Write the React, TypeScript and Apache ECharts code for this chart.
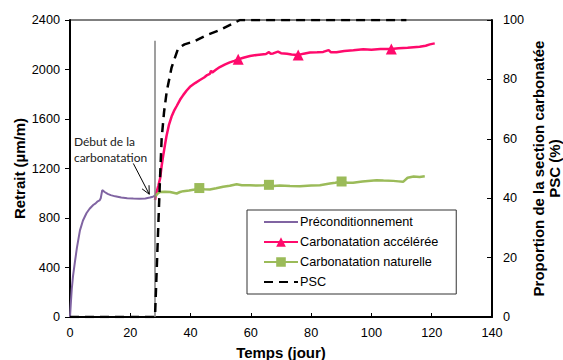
import React, { useEffect, useRef } from "react";
import * as echarts from "echarts";

const xTicks = { min: 0, max: 140, interval: 20 };
const yLeftTicks = { min: 0, max: 2400, interval: 400 };
const yRightTicks = { min: 0, max: 100, interval: 20 };

const seriesNames = [
  "Préconditionnement",
  "Carbonatation accélérée",
  "Carbonatation naturelle",
  "PSC",
];

const precond: number[][] = [
  [0, 0], [0.3, 120], [0.6, 230], [1, 330], [1.6, 440], [2.3, 560], [3.3, 700], [4.3, 780],
  [5.5, 840], [6.5, 875], [7.7, 905], [8.5, 918], [9.2, 935], [9.8, 942], [10.2, 960],
  [10.7, 1025], [11.5, 1010], [12.5, 995], [13.5, 985], [15, 975], [17, 965], [19, 960],
  [21, 957], [23, 955], [25, 958], [26.5, 965], [27.5, 972], [28.2, 980],
];

const accel: number[][] = [
  [28.2, 945], [28.6, 1000], [29.3, 1060], [29.9, 1120], [30.4, 1220], [30.9, 1300],
  [31.5, 1390], [32.0, 1460], [32.8, 1550], [33.7, 1620], [34.5, 1665], [35.4, 1705],
  [36.5, 1755], [37.6, 1795], [38.7, 1830], [39.8, 1860], [41.5, 1890], [43.1, 1915],
  [44.5, 1935], [45.5, 1955], [46.4, 1965], [46.8, 1990], [47.2, 1975], [48.5, 2000],
  [49.7, 2020], [51.3, 2040], [53, 2058], [54.5, 2070], [55.8, 2082], [57.5, 2095],
  [59.7, 2109], [62, 2118], [65, 2125], [66, 2140], [66.5, 2128], [67.4, 2130],
  [69, 2144], [70, 2132], [72, 2128], [73.5, 2122], [75.7, 2117], [77.5, 2128],
  [79.6, 2138], [82, 2140], [84, 2142], [85.8, 2157], [86.5, 2140], [88.4, 2139],
  [91, 2150], [94, 2155], [97.3, 2163], [100, 2160], [103, 2165], [106.6, 2165],
  [109, 2172], [112, 2176], [116, 2184], [118, 2192], [119.4, 2203], [121, 2211],
];
const accelMarkers = [55.8, 75.7, 106.6];

const natural: number[][] = [
  [28.2, 975], [29, 995], [29.8, 1010], [31.5, 1012], [33.2, 1010], [35.4, 998],
  [36.5, 1010], [37.6, 1017], [39.5, 1022], [41.4, 1030], [42.9, 1042], [44.5, 1032],
  [46.4, 1030], [48.5, 1040], [50.8, 1052], [53, 1060], [55.3, 1073], [57, 1065],
  [59.7, 1065], [62, 1062], [64.1, 1065], [66, 1068], [67.5, 1058], [69.6, 1062],
  [73, 1058], [76.3, 1057], [80, 1062], [82.9, 1065], [86.2, 1079], [88, 1085],
  [90.1, 1095], [92, 1085], [93.9, 1084], [97, 1095], [101.7, 1106], [104, 1103],
  [107.2, 1100], [109, 1096], [110.5, 1092], [112, 1125], [114, 1135], [116, 1132],
  [117.7, 1138],
];
const naturalMarkers = [42.9, 66, 90.1];

const psc: number[][] = [
  [0, 0], [28.2, 0], [29.8, 45], [30.4, 60], [31.2, 69], [32.1, 76], [33.7, 84],
  [35.9, 90.5], [38, 91.8], [40.9, 92.7], [45.3, 94.9], [49.7, 96.6], [56.4, 100],
  [111.6, 100],
];

const carbonationStart = 28.2;
const carbonationLineTop = 2232;
const annotationText = "Début de la\ncarbonatation";
const annotationAnchor = [1.3, 1486];
const arrowFrom = [21.0, 1241];
const arrowTo = [26.3, 992];

const FONT = "Arial, 'Liberation Sans', sans-serif";

function withMarkers(data: number[][], markers: number[]) {
  return data.map((d) =>
    markers.includes(d[0]) ? { value: d } : { value: d, symbol: "none" }
  );
}

export default function App() {
  const ref = useRef<HTMLDivElement>(null);
  useEffect(() => {
    if (!ref.current) return;
    const chart = echarts.init(ref.current, null, { renderer: "svg" });
    const axisLabel = { color: "#000", fontFamily: FONT, fontSize: 12.7, formatter: (v: number) => String(v) };
    const nameStyle = { color: "#000", fontFamily: FONT, fontSize: 15, fontWeight: "bold" as const };
    const hiddenSymbol = { color: "rgba(0,0,0,0)", borderColor: "rgba(0,0,0,0)", borderWidth: 0 };
    const option: any = {
      animation: false,
      backgroundColor: "#fff",
      grid: {
        left: 70, right: 71, top: 20, bottom: 43, show: true, borderColor: "#000", borderWidth: 1,
        containLabel: false, outerBoundsMode: "none",
      },
      xAxis: {
        type: "value",
        min: xTicks.min, max: xTicks.max, interval: xTicks.interval,
        name: "Temps (jour)", nameLocation: "middle", nameGap: 28, nameMoveOverlap: false,
        nameTextStyle: { ...nameStyle, lineHeight: 15 },
        axisLine: { show: true, lineStyle: { color: "#000", width: 2 } },
        axisTick: { show: true, inside: true, length: 4, lineStyle: { color: "#000" } },
        axisLabel: { ...axisLabel, margin: 9 },
        splitLine: { show: false },
      },
      yAxis: [
        {
          type: "value",
          min: yLeftTicks.min, max: yLeftTicks.max, interval: yLeftTicks.interval,
          name: "Retrait (µm/m)", nameLocation: "middle", nameGap: 43, nameMoveOverlap: false,
          nameTextStyle: nameStyle,
          axisLine: { show: true, lineStyle: { color: "#000", width: 2 } },
          axisTick: { show: true, inside: false, length: 5, lineStyle: { color: "#000" } },
          axisLabel: { ...axisLabel, margin: 10 },
          splitLine: { show: false },
        },
        {
          type: "value", position: "right",
          min: yRightTicks.min, max: yRightTicks.max, interval: yRightTicks.interval,
          name: "Proportion de la section carbonatée\nPSC (%)", nameLocation: "middle", nameGap: 38,
          nameMoveOverlap: false,
          nameTextStyle: { ...nameStyle, lineHeight: 16.5 },
          axisLine: { show: true, lineStyle: { color: "#000", width: 2 } },
          axisTick: { show: true, inside: true, length: 5, lineStyle: { color: "#000" } },
          axisLabel: { ...axisLabel, margin: 11 },
          splitLine: { show: false },
        },
      ],
      legend: {
        orient: "vertical", left: 247, top: 210,
        data: [
          { name: seriesNames[0], itemStyle: hiddenSymbol },
          { name: seriesNames[1] },
          { name: seriesNames[2] },
          { name: seriesNames[3], itemStyle: hiddenSymbol },
        ],
        backgroundColor: "#fff", borderColor: "#333", borderWidth: 1,
        padding: [5, 18, 5, 16], itemGap: 6, itemWidth: 34, itemHeight: 12,
        textStyle: { color: "#000", fontFamily: FONT, fontSize: 12.7, lineHeight: 14, padding: [0, 0, 0, -3] },
      },
      series: [
        {
          name: seriesNames[0], type: "line", data: precond, symbol: "none",
          lineStyle: { color: "#8064A2", width: 2 }, itemStyle: { color: "#8064A2" },
          z: 3,
          markLine: {
            silent: true, symbol: "none", label: { show: false },
            lineStyle: { color: "#7f7f7f", width: 1.5, type: "solid" },
            data: [[{ coord: [carbonationStart, 0] }, { coord: [carbonationStart, carbonationLineTop] }]],
          },
        },
        {
          name: seriesNames[1], type: "line", data: withMarkers(accel, accelMarkers),
          symbol: "triangle", symbolSize: 11, showSymbol: true,
          lineStyle: { color: "#FF0A6C", width: 2.5 }, itemStyle: { color: "#FF0A6C" },
          z: 4,
        },
        {
          name: seriesNames[2], type: "line", data: withMarkers(natural, naturalMarkers),
          symbol: "rect", symbolSize: 10, showSymbol: true,
          lineStyle: { color: "#9BBB59", width: 2.5 }, itemStyle: { color: "#9BBB59" },
          z: 4,
        },
        {
          name: seriesNames[3], type: "line", yAxisIndex: 1, data: psc, symbol: "none",
          lineStyle: { color: "#000", width: 2.5, type: [9, 6] }, itemStyle: { color: "#000" },
          z: 5,
        },
      ],
    };
    chart.setOption(option);

    const toPx = (p: number[]) => chart.convertToPixel({ xAxisIndex: 0, yAxisIndex: 0 }, p) as number[];
    const t = toPx(annotationAnchor);
    const a0 = toPx(arrowFrom);
    const a1 = toPx(arrowTo);
    const ang = Math.atan2(a1[1] - a0[1], a1[0] - a0[0]);
    const head = 9;
    const spread = 0.45;
    const h1 = [a1[0] - head * Math.cos(ang - spread), a1[1] - head * Math.sin(ang - spread)];
    const h2 = [a1[0] - head * Math.cos(ang + spread), a1[1] - head * Math.sin(ang + spread)];
    chart.setOption({
      graphic: [
        {
          type: "text", x: t[0], y: t[1], z: 10,
          style: { text: annotationText, fill: "#222", font: "12px Lato", lineHeight: 16, textAlign: "left", textVerticalAlign: "top" },
        },
        {
          type: "line", z: 10,
          shape: { x1: a0[0], y1: a0[1], x2: a1[0], y2: a1[1] },
          style: { stroke: "#000", lineWidth: 1 },
        },
        {
          type: "polyline", z: 10,
          shape: { points: [h1, a1, h2] },
          style: { stroke: "#000", lineWidth: 1, fill: "none" },
        },
      ],
    });
    return () => chart.dispose();
  }, []);
  return <div ref={ref} style={{ position: "fixed", left: 0, top: 0, width: 563, height: 360 }} />;
}
